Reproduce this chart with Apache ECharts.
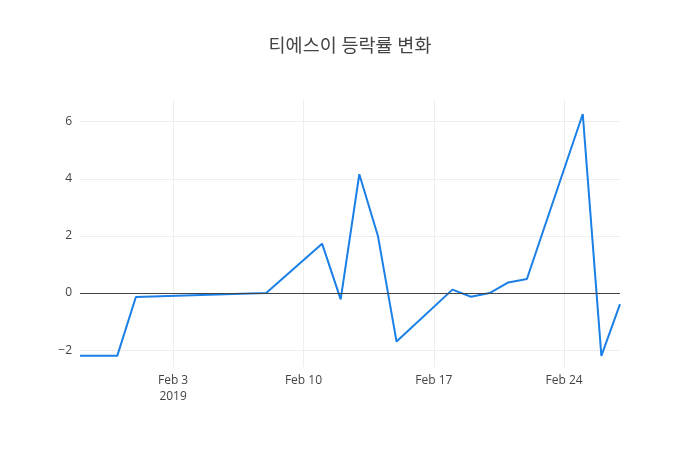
<!DOCTYPE html>
<html lang="ko">
<head>
    <meta charset="UTF-8">
    <title>티에스이 등락률 변화</title>
    <script src="https://cdn.jsdelivr.net/npm/echarts@6/dist/echarts.min.js"></script>
</head>
<body style="margin:0;">
    <div id="card" style="width:700px;height:450px;"></div>
    <script>
        // 거래일
        var dates = ['2019-01-29', '2019-01-31', '2019-02-01', '2019-02-08', '2019-02-11',
            '2019-02-12', '2019-02-13', '2019-02-14', '2019-02-15', '2019-02-18',
            '2019-02-19', '2019-02-20', '2019-02-21', '2019-02-22', '2019-02-25',
            '2019-02-26', '2019-02-27'];
        // 등락률 (%)
        var rates = [-2.2, -2.2, -0.14, 0.0, 1.73, -0.22, 4.16, 2.0, -1.7, 0.12,
            -0.13, 0.0, 0.37, 0.49, 6.27, -2.2, -0.39];
        var xTicks = ['2019-02-03', '2019-02-10', '2019-02-17', '2019-02-24'];
        var yTicks = [-2, 0, 2, 4, 6];

        var months = ['Jan', 'Feb', 'Mar', 'Apr', 'May', 'Jun', 'Jul', 'Aug', 'Sep', 'Oct', 'Nov', 'Dec'];
        var toTime = function (s) {
            var p = s.split('-');
            return new Date(+p[0], +p[1] - 1, +p[2]).getTime();
        };
        var data = [];
        for (var i = 0; i < dates.length; i++) {
            data.push([toTime(dates[i]), rates[i]]);
        }
        var tickTimes = xTicks.map(toTime);

        var font = '"Open Sans", "Noto Sans CJK KR", sans-serif';

        var option = {
            backgroundColor: '#fff',
            animation: false,
            title: {
                text: '티에스이 등락률 변화',
                left: 'center',
                top: 32,
                textStyle: { color: '#444', fontSize: 18.5, fontWeight: 'normal', fontFamily: font }
            },
            grid: { left: 80, right: 80, top: 100, bottom: 83 },
            xAxis: {
                type: 'value',
                min: toTime(dates[0]),
                max: toTime(dates[dates.length - 1]),
                axisLine: { show: false },
                axisTick: { show: false, customValues: tickTimes },
                splitLine: { show: true, lineStyle: { color: '#eee', width: 1 } },
                axisLabel: {
                    customValues: tickTimes,
                    margin: 6,
                    lineHeight: 16,
                    color: '#444',
                    fontSize: 12,
                    fontFamily: font,
                    formatter: function (v) {
                        var d = new Date(v);
                        var s = months[d.getMonth()] + ' ' + d.getDate();
                        if (v === tickTimes[0]) s += '\n' + d.getFullYear();
                        return s;
                    }
                }
            },
            yAxis: {
                type: 'value',
                min: -2.59,
                max: 6.76,
                axisLine: { show: false },
                axisTick: { show: false, customValues: yTicks },
                splitLine: { show: true, lineStyle: { color: '#eee', width: 1 } },
                axisLabel: {
                    customValues: yTicks,
                    margin: 8,
                    color: '#444',
                    fontSize: 12,
                    fontFamily: font,
                    formatter: function (v) {
                        return v < 0 ? '\u2212' + Math.abs(v) : String(v);
                    }
                }
            },
            series: [{
                name: '등락률',
                type: 'line',
                data: data,
                showSymbol: false,
                lineStyle: { color: '#1a7fe6', width: 2 },
                itemStyle: { color: '#1a7fe6' },
                markLine: {
                    silent: true,
                    symbol: 'none',
                    label: { show: false },
                    lineStyle: { color: '#444', width: 1, type: 'solid' },
                    data: [{ yAxis: 0 }]
                },
                z: 3
            }]
        };

        var myChart = echarts.init(document.querySelector('#card'));
        myChart.setOption(option);
    </script>
</body>
</html>
